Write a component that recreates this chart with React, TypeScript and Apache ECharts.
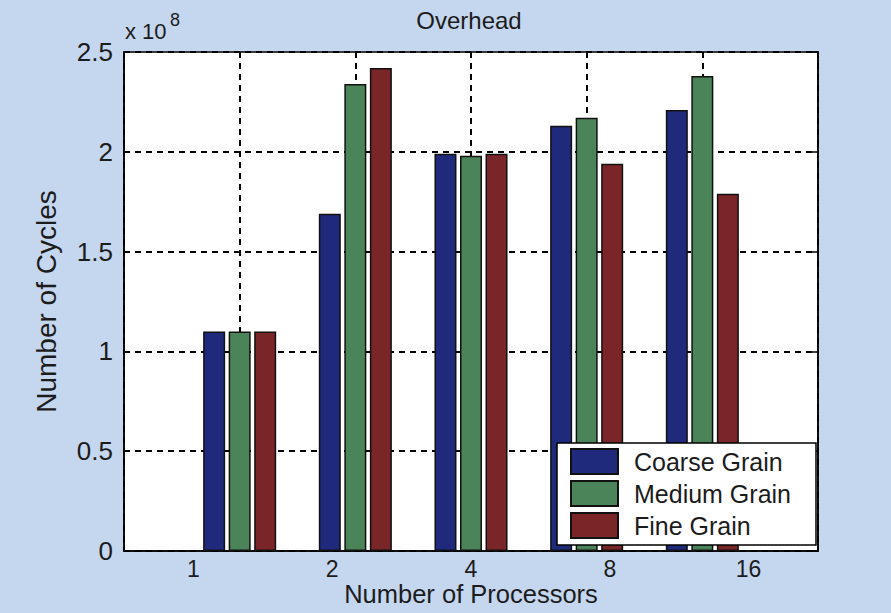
import React, { useEffect, useRef } from "react";
import * as echarts from "echarts";

const categories = ["1", "2", "4", "8", "16"];
const coarseGrain = [1.1e8, 1.69e8, 1.99e8, 2.13e8, 2.21e8];
const mediumGrain = [1.1e8, 2.34e8, 1.98e8, 2.17e8, 2.38e8];
const fineGrain = [1.1e8, 2.42e8, 1.99e8, 1.94e8, 1.79e8];
const yTicks = [0, 0.5e8, 1e8, 1.5e8, 2e8, 2.5e8];
const seriesNames = ["Coarse Grain", "Medium Grain", "Fine Grain"];
const seriesColors = ["#1f2a7c", "#4c8459", "#7a2527"];

const FONT = "'Liberation Sans', Arial, sans-serif";
const TEXT = "#1c1c1c";

export default function App() {
  const ref = useRef<HTMLDivElement>(null);
  useEffect(() => {
    if (!ref.current) return;
    const chart = echarts.init(ref.current, null, { renderer: "svg" });
    const padded = ["", ...categories, ""];
    const pad = (a: number[]) => ["-", ...a, "-"];
    const values = [coarseGrain, mediumGrain, fineGrain];
    const yMax = yTicks[yTicks.length - 1];
    const yInt = yTicks[1] - yTicks[0];
    const option: any = {
      animation: false,
      backgroundColor: "#c5d6ef",
      textStyle: { fontFamily: FONT },
      grid: {
        left: 124,
        top: 52,
        right: 73,
        bottom: 62,
        show: true,
        backgroundColor: "#ffffff",
        borderColor: "#000",
        borderWidth: 1.5,
        containLabel: false,
        outerBoundsMode: "none",
      },
      legend: {
        data: seriesNames,
        orient: "vertical",
        left: 557,
        top: 443,
        itemWidth: 47,
        itemHeight: 25,
        itemGap: 5,
        padding: [5, 25, 6, 13],
        backgroundColor: "#ffffff",
        borderColor: "#000",
        borderWidth: 1.5,
        borderRadius: 0,
        icon: "rect",
        textStyle: {
          fontFamily: FONT,
          fontSize: 25,
          color: TEXT,
          padding: [0, 0, 0, 11],
        },
      },
      xAxis: [
        {
          type: "category",
          data: padded,
          boundaryGap: false,
          axisLine: { show: true, lineStyle: { color: "#000", width: 1.5 } },
          axisTick: { show: false },
          axisLabel: { show: false },
          splitLine: {
            show: true,
            interval: 0,
            lineStyle: { color: "#000", type: [6, 5], width: 2 },
          },
        },
        {
          type: "category",
          data: categories,
          position: "bottom",
          boundaryGap: true,
          axisLine: { show: false },
          axisTick: { show: false },
          splitLine: { show: false },
          axisLabel: {
            fontSize: 23,
            color: TEXT,
            margin: 6,
            fontFamily: FONT,
          },
          name: "Number of Processors",
          nameLocation: "middle",
          nameGap: 30,
          nameMoveOverlap: false,
          nameTextStyle: { fontSize: 25.5, color: TEXT, fontFamily: FONT },
        },
      ],
      yAxis: [
        {
          type: "value",
          min: 0,
          max: yMax,
          interval: yInt,
          axisLine: { show: true, lineStyle: { color: "#000", width: 1.5 } },
          axisTick: {
            show: true,
            inside: true,
            length: 6,
            lineStyle: { color: "#000", width: 1.5 },
          },
          axisLabel: {
            fontSize: 26,
            color: TEXT,
            margin: 11,
            fontFamily: FONT,
            formatter: (v: number) => String(+(v / 1e8).toFixed(2)),
          },
          splitLine: {
            show: true,
            lineStyle: { color: "#000", type: [6, 5], width: 2 },
          },
          name: "Number of Cycles",
          nameLocation: "middle",
          nameRotate: 90,
          nameGap: 64,
          nameMoveOverlap: false,
          nameTextStyle: { fontSize: 28, color: TEXT, fontFamily: FONT },
        },
        {
          type: "value",
          position: "right",
          min: 0,
          max: yMax,
          interval: yInt,
          axisLine: { show: true, lineStyle: { color: "#000", width: 1.5 } },
          axisTick: {
            show: true,
            inside: true,
            length: 6,
            lineStyle: { color: "#000", width: 1.5 },
          },
          axisLabel: { show: false },
          splitLine: { show: false },
        },
      ],
      series: seriesNames.map((name, i) => ({
        name,
        type: "bar",
        xAxisIndex: 0,
        yAxisIndex: 0,
        data: pad(values[i]),
        barWidth: 22,
        barGap: "16%",
        itemStyle: {
          color: seriesColors[i],
          borderColor: "#111",
          borderWidth: 1.5,
        },
        z: 3,
      })),
      graphic: [
        {
          type: "text",
          x: 469,
          y: 8,
          style: {
            text: "Overhead",
            align: "center",
            fontSize: 24,
            fontFamily: FONT,
            fill: TEXT,
          },
        },
        {
          type: "text",
          x: 125,
          y: 20,
          style: {
            text: "x 10",
            fontSize: 22,
            fontFamily: FONT,
            fill: TEXT,
          },
        },
        {
          type: "text",
          x: 170,
          y: 11,
          style: {
            text: "8",
            fontSize: 18,
            fontFamily: FONT,
            fill: TEXT,
          },
        },
      ],
    };
    chart.setOption(option);
    return () => chart.dispose();
  }, []);
  return (
    <div
      ref={ref}
      style={{ position: "absolute", left: 0, top: 0, width: 891, height: 613 }}
    />
  );
}
